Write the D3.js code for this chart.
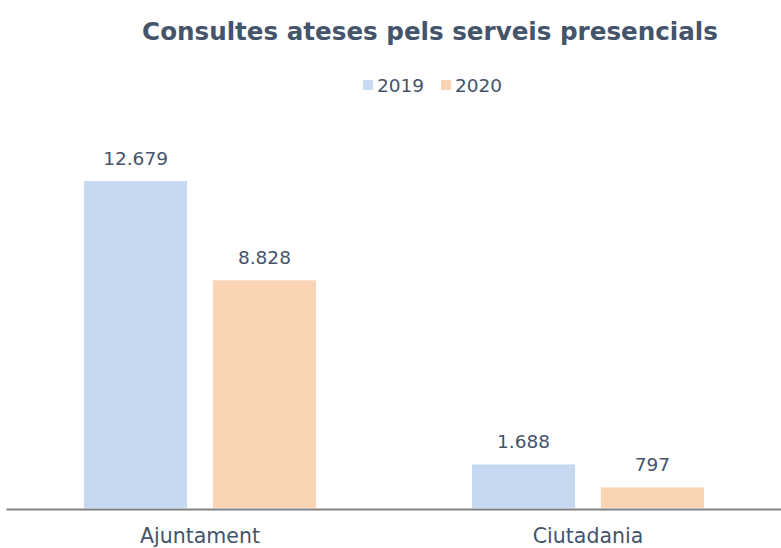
<!DOCTYPE html>
<html>
<head>
<meta charset="utf-8">
<script src="https://cdn.jsdelivr.net/npm/d3@7"></script>
<style>
  body { margin: 0; background: #fff; }
  svg { display: block; }
  text { font-family: "DejaVu Sans", sans-serif; fill: #44546A; }
</style>
</head>
<body>
<svg id="chart"></svg>
<script>
let categories = ['Ajuntament', 'Ciutadania']
let years = ['2019', '2020']
let values2019 = [12679, 1688]
let values2020 = [8828, 797]
let chartTitle = 'Consultes ateses pels serveis presencials'

let width = 781
let height = 548

let colors = {
    '2019': '#C6D9F1',
    '2020': '#FBD4B4'
}

let ca = d3.formatLocale({ decimal: ',', thousands: '.', grouping: [3], currency: ['', ' €'] })
let fmt = ca.format(',d')

let svg = d3.select('#chart').attr('width', width).attr('height', height)

let rows = categories.map((c, i) => {
    return { category: c, '2019': values2019[i], '2020': values2020[i] }
})

let baseline = 508
let x = d3.scaleBand().domain(categories).range([6, 782])
let xInner = d3.scaleBand().domain(years).range([78, 310]).paddingInner(0.2)
let y = d3.scaleLinear().domain([0, 14000]).range([baseline, baseline - 327 * 14000 / 12679])

// fit a text to a target width by changing its font size
let fitText = (sel, target) => {
    sel.each(function () {
        let fs = parseFloat(d3.select(this).attr('font-size'))
        let w = this.getComputedTextLength()
        d3.select(this).attr('font-size', (fs * target / w).toFixed(2))
    })
}

// title
svg.append('text')
   .attr('x', 430)
   .attr('y', 40)
   .attr('text-anchor', 'middle')
   .attr('font-size', 26)
   .attr('font-weight', 'bold')
   .text(chartTitle)
   .call(fitText, 576)

// legend
let legend = svg.append('g').attr('transform', 'translate(363,80)')
let legendItems = legend.selectAll('g')
    .data(years)
    .enter()
    .append('g')
    .attr('transform', (d, i) => 'translate(' + (i * 78) + ',0)')
legendItems.append('rect')
    .attr('width', 10)
    .attr('height', 10)
    .attr('fill', d => colors[d])
legendItems.append('text')
    .attr('x', 14)
    .attr('y', 12)
    .attr('font-size', 18.5)
    .text(d => d)

// bars
let groups = svg.selectAll('g.group')
    .data(rows)
    .enter()
    .append('g')
    .attr('class', 'group')
    .attr('transform', d => 'translate(' + x(d.category) + ',0)')

let bars = groups.selectAll('g.bar')
    .data(d => years.map(k => ({ key: k, value: d[k] })))
    .enter()
    .append('g')
    .attr('class', 'bar')

bars.append('rect')
    .attr('x', d => xInner(d.key))
    .attr('y', d => y(d.value))
    .attr('width', xInner.bandwidth())
    .attr('height', d => baseline - y(d.value))
    .attr('fill', d => colors[d.key])

bars.append('text')
    .attr('x', d => xInner(d.key) + xInner.bandwidth() / 2)
    .attr('y', d => y(d.value) - 16)
    .attr('text-anchor', 'middle')
    .attr('font-size', 18.5)
    .text(d => fmt(d.value))

// axis
let xAxis = d3.axisBottom(x).tickSize(0).tickPadding(19)
let axisG = svg.append('g')
    .attr('transform', 'translate(0,' + (baseline + 1) + ')')
    .call(xAxis)
axisG.select('.domain').attr('stroke', '#808080').attr('stroke-width', 2)
axisG.selectAll('.tick text')
    .attr('font-size', 20.5)
    .style('font-family', '"DejaVu Sans", sans-serif')
    .attr('fill', '#44546A')
</script>
</body>
</html>
